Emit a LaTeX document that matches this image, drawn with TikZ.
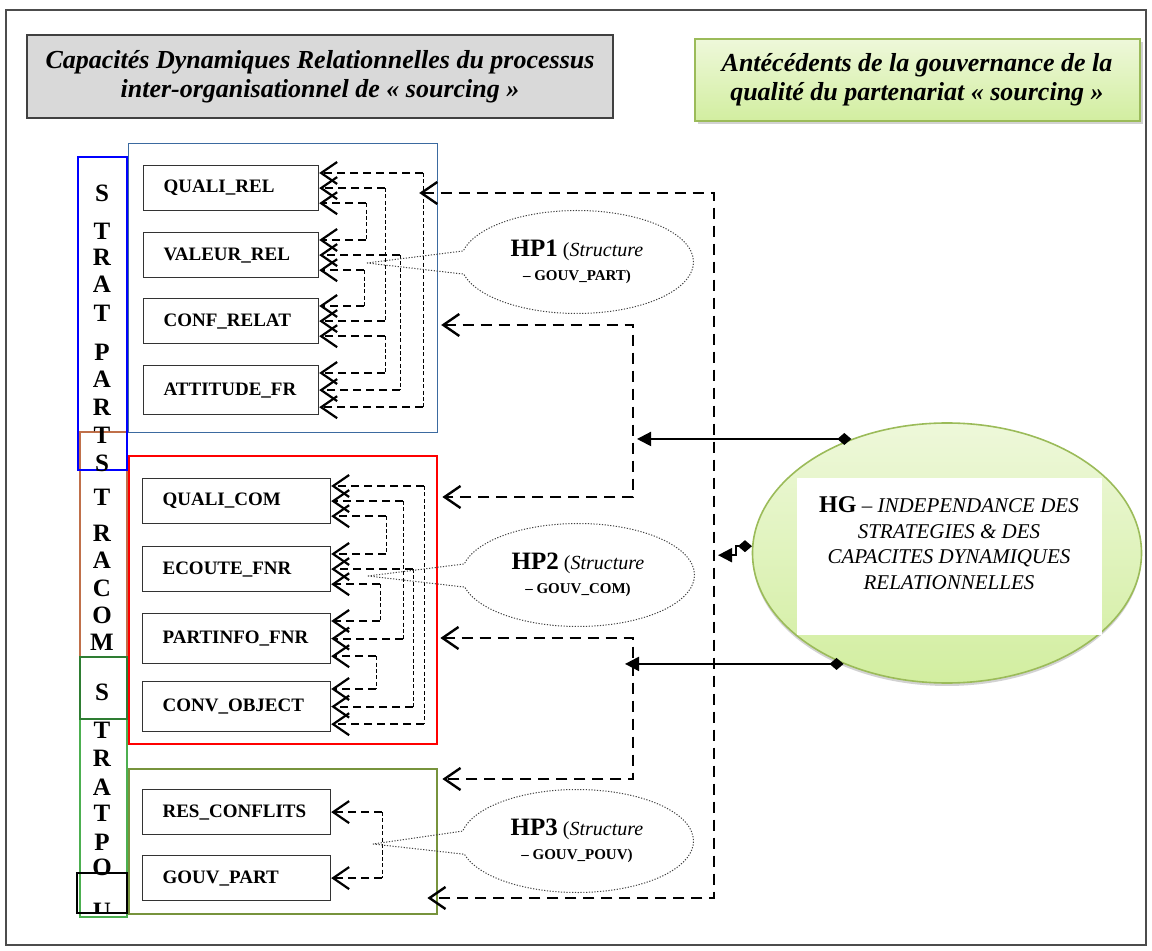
\documentclass[tikz,border=0pt]{standalone}
\usepackage{fontspec}
\setmainfont{Liberation Serif}
\usetikzlibrary{arrows.meta,shapes.geometric,shapes.callouts,shadows,calc}

\definecolor{grpblue}{HTML}{3B6AA0}
\definecolor{grpolive}{HTML}{77933C}
\definecolor{hgline}{HTML}{9BBB59}
\definecolor{hgtop}{HTML}{EEF8DA}
\definecolor{hgbot}{HTML}{D2EEA0}
\definecolor{stripbrown}{HTML}{C0704A}
\definecolor{stripdkgreen}{HTML}{2E7D32}
\definecolor{stripgreen}{HTML}{4CAF50}

\tikzset{
  var/.style={draw=black!80, line width=0.6pt, anchor=north west, minimum height=22.5pt,
    inner xsep=10pt, text width=#1, align=left, font=\fontsize{9.5}{11}\selectfont\bfseries},
  grp/.style={anchor=north west, minimum width=154pt, inner sep=0pt},
  ltr/.style={font=\fontsize{12.5}{14}\selectfont\bfseries},
  hlink/.style={line width=1pt, dash pattern=on 4pt off 2.5pt,
    -{Straight Barb[length=8pt,width=11pt,line width=1.1pt]}},
  vlink/.style={line width=0.5pt, dash pattern=on 2pt off 1.2pt},
  glink/.style={line width=1.2pt, dash pattern=on 5.5pt off 3.5pt,
    {Straight Barb[length=8pt,width=11pt]}-{Straight Barb[length=8pt,width=11pt]}},
  hyp/.style={ellipse callout, draw=black!75, line width=0.5pt, dash pattern=on 0.6pt off 0.8pt,
    minimum width=116.5pt, minimum height=51.5pt, callout pointer arc=26, align=center,
    font=\fontsize{10}{12}\selectfont},
  infl/.style={line width=1pt, {Diamond[length=7pt,width=6pt]}-{Triangle[length=7pt,width=7pt]}},
  titre/.style={line width=1pt, align=center, font=\fontsize{13}{14.5}\selectfont\bfseries\itshape},
}

\begin{document}
\begin{tikzpicture}[x=0.5pt,y=-0.5pt]
\useasboundingbox (0,0) rectangle (1152,951);
\draw[black!70, line width=0.6pt] (6,10) rectangle (1146,945);
%
\node[titre, draw=black!75, fill=black!15, minimum width=293pt, minimum height=41.5pt] (cdr) at (320,77)
  {Capacités Dynamiques Relationnelles du processus\\inter-organisationnel de « sourcing »};
\node[titre, draw=hgline, top color=hgtop, bottom color=hgbot, minimum width=222.5pt, minimum height=41pt,
  drop shadow={shadow xshift=1.5pt, shadow yshift=-1.5pt, fill=black!35}] (ant) at (917,80)
  {Antécédents de la gouvernance de la\\qualité du partenariat « sourcing »};
%
% bandes verticales
\draw[stripgreen, line width=0.8pt] (80,657) rectangle (127,917);
\draw[stripbrown, line width=0.6pt] (80,432) rectangle (127,719);
\draw[stripdkgreen, line width=0.6pt] (80,657) rectangle (127,719);
\draw[blue, line width=1.2pt] (78,157) rectangle (127,470);
\draw[black, line width=0.6pt] (77,873) rectangle (127,913);
\foreach \l/\y [count=\i] in {S/193,T/231,R/257,A/284,T/313,P/352,A/379,R/407,T/435,S/463,
    T/497,R/533,A/560,C/588,O/615,M/642,S/692,T/730,R/758,A/787,T/813,P/842,O/867}
  \node[ltr] (l\i) at (102,\y) {\l};
\begin{scope}
  \clip (77,873) rectangle (127,912);
  \node[ltr] (lu) at (102,911) {U};
\end{scope}
%
% groupes
\node[grp, draw=grpblue, line width=0.6pt, minimum width=154.5pt, minimum height=144.5pt] (g1) at (128,143) {};
\node[grp, draw=red, line width=1.2pt, minimum height=144pt] (g2) at (128,455) {};
\node[grp, draw=grpolive, line width=1.2pt, minimum height=72.5pt] (g3) at (128,768) {};
%
\node[var=67.5pt] (qr) at (143,165) {QUALI\_REL};
\node[var=67.5pt] (vr) at (143,232) {VALEUR\_REL};
\node[var=67.5pt] (cr) at (143,298) {CONF\_RELAT};
\node[var=67.5pt, minimum height=24.5pt] (at) at (143,365) {ATTITUDE\_FR};
\node[var=74pt] (qc) at (142,478) {QUALI\_COM};
\node[var=74pt] (ec) at (142,546) {ECOUTE\_FNR};
\node[var=74pt, minimum height=25pt] (pf) at (142,613) {PARTINFO\_FNR};
\node[var=74pt, minimum height=25pt] (co) at (142,681) {CONV\_OBJECT};
\node[var=74pt] (rc) at (142,789) {RES\_CONFLITS};
\node[var=74pt] (gp) at (142,855) {GOUV\_PART};
%
\foreach \n in {qr,vr,cr,at,qc,ec,pf,co}{
  \coordinate (\n-1) at ([yshift=-4pt]\n.north east);
  \coordinate (\n-2) at (\n.east);
  \coordinate (\n-3) at ([yshift=4pt]\n.south east);
}
\foreach \s/\t/\x in {qr-1/at-3/423, qr-2/cr-2/385, qr-3/vr-1/366, vr-2/at-2/400, vr-3/cr-1/364, cr-3/at-1/385,
    qc-1/co-3/424, qc-2/pf-2/403, qc-3/ec-1/386, ec-2/co-2/413, ec-3/pf-1/380, pf-3/co-1/376,
    rc/gp/382}{
  \coordinate (v) at (\x,0);
  \draw[vlink] (\s -| v) -- (\t -| v);
  \draw[hlink] (\s -| v) -- (\s);
  \draw[hlink] (\t -| v) -- (\t);
}
%
% hypotheses
\node[hyp, callout absolute pointer={(367,263)}] (hp1) at (577,262)
  {{\fontsize{12.5}{12}\selectfont\bfseries HP1} (\textit{Structure}\\{\fontsize{7.5}{12}\selectfont\bfseries – GOUV\_PART)}};
\node[hyp, callout absolute pointer={(368,576)}] (hp2) at (578,575)
  {{\fontsize{12.5}{12}\selectfont\bfseries HP2} (\textit{Structure}\\{\fontsize{7.5}{12}\selectfont\bfseries – GOUV\_COM)}};
\node[hyp, callout absolute pointer={(373,844)}] (hp3) at (577,841)
  {{\fontsize{12.5}{12}\selectfont\bfseries HP3} (\textit{Structure}\\{\fontsize{7.5}{12}\selectfont\bfseries – GOUV\_POUV)}};
%
\coordinate (m1) at (633,325);
\coordinate (m1b) at (633,497);
\coordinate (m2) at (633,638);
\coordinate (m2b) at (633,779);
\coordinate (m3) at (714,193);
\coordinate (m3b) at (714,898);
\draw[glink] ([xshift=1.5pt]g1.east |- m1) -- (m1) -- (m1b) -- ([xshift=2pt]g2.east |- m1b);
\draw[glink] ([xshift=1pt]g2.east |- m2) -- (m2) -- (m2b) -- ([xshift=2pt]g3.east |- m2b);
\draw[glink] ([xshift=-9.5pt]g1.east |- m3) -- (m3) -- (m3b) -- ([xshift=-5.5pt]g3.east |- m3b);
%
\node[ellipse, draw=hgline, line width=0.8pt, top color=hgtop, bottom color=hgbot,
  minimum width=194.5pt, minimum height=130pt,
  drop shadow={shadow xshift=0pt, shadow yshift=-1.5pt, fill=black!35}] (hg) at (947,553) {};
\node[fill=white, minimum width=152.5pt, minimum height=78.5pt] (hgbox) at (949.5,556.5) {};
\node[align=center, font=\fontsize{10.5}{12.75}\selectfont\itshape] (hgtxt) at (949,543)
  {{\upshape\bfseries\fontsize{12}{12.75}\selectfont HG} {\upshape –} INDEPENDANCE DES\\STRATEGIES \& DES\\CAPACITES DYNAMIQUES\\RELATIONNELLES};
%
\draw[infl] (hg.130) -- ([xshift=2pt]hg.130 -| m1);
\draw[infl] (hg.178) -- ++(-8pt,0) |- ([xshift=2pt,yshift=-4.5pt]hg.178 -| m3);
\draw[infl] (hg.227) -- ([xshift=-4pt]hg.227 -| m2);
\end{tikzpicture}
\end{document}
